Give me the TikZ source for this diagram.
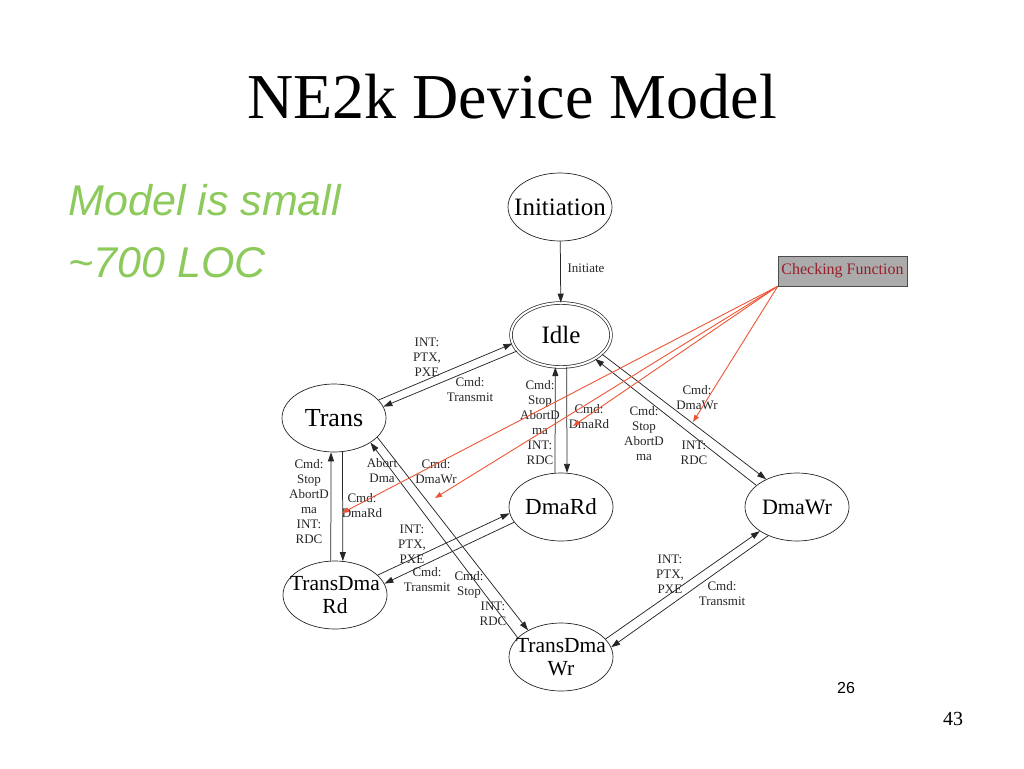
\documentclass[tikz,border=0pt]{standalone}
\usepackage{fontspec}
\setmainfont{Liberation Serif}
\newfontfamily\arialfont{Liberation Sans}
\usepackage{tikz}
\usetikzlibrary{shapes.geometric,arrows.meta}
\definecolor{chkred}{RGB}{238,84,52}
\definecolor{chktext}{RGB}{150,32,42}
\definecolor{locgreen}{RGB}{140,202,92}

\begin{document}
\begin{tikzpicture}[x=1pt,y=1pt,yscale=-1,xscale=1,
	state/.style={draw=black!85,ellipse,line width=0.7pt,minimum width=104pt,minimum height=68pt,inner sep=-12pt,align=center,font=\fontsize{23}{23}\selectfont},
	lbl/.style={inner sep=0pt,align=center,text=black!85,font=\fontsize{13}{15}\selectfont},
	tr/.style={draw=black!85,line width=0.75pt,-{Triangle[length=9pt,width=6pt]}},
	chk/.style={draw=chkred,line width=0.9pt,-{Triangle[length=7pt,width=5pt]}}]
	\useasboundingbox (0,0) rectangle (1024,768);
	
	%Text: title and notes
	\node[anchor=base,font=\fontsize{64}{64}\selectfont] (title) at (512,118) {NE2k Device Model};
	\node[anchor=base west,text=locgreen,font=\arialfont\itshape\fontsize{43}{43}\selectfont] (small) at (65,215) {Model is small};
	\node[anchor=base west,text=locgreen,font=\arialfont\itshape\fontsize{43}{43}\selectfont] (loc) at (65,277) {\textasciitilde 700 LOC};
	\node[anchor=base,font=\arialfont\fontsize{16}{16}\selectfont] (fig) at (846,693) {26};
	\node[anchor=base,font=\fontsize{20}{20}\selectfont] (page) at (953,725) {43};
	
	%States
	\node[state,font=\fontsize{25}{25}\selectfont] (init) at (560,207) {Initiation};
	\node[state,double,double distance=2pt,minimum width=100pt,minimum height=64pt,font=\fontsize{25}{25}\selectfont] (idle) at (561,335) {Idle};
	\node[state,font=\fontsize{26}{26}\selectfont] (trans) at (334,418) {Trans};
	\node[state] (dmard) at (561,507) {DmaRd};
	\node[state,font=\fontsize{22}{22}\selectfont] (dmawr) at (797,507) {DmaWr};
	\node[state,font=\fontsize{21.5}{22.5}\selectfont] (tdrd) at (335,595) {TransDma\\Rd};
	\node[state,font=\fontsize{21.5}{22.5}\selectfont] (tdwr) at (561,657) {TransDma\\Wr};
	
	%Checking function box
	\node[draw=black!70,fill=black!33,text=chktext,minimum width=129pt,minimum height=30pt,inner sep=0pt,font=\fontsize{16}{16}\selectfont] (chk) at (842.5,271) {Checking Function};
	
	%Transitions
	\draw[tr] (init) -- (idle);
	\draw[tr] (trans.22) -- (idle.190);
	\draw[tr] (idle.200) -- (trans.13);
	\draw[tr] (idle.280) -- (dmard.80);
	\draw[tr] (dmard.100) -- (idle.260);
	\draw[tr] (idle.335) -- (dmawr.138);
	\draw[tr] (dmawr.152) -- (idle.325);
	\draw[tr] (trans.284) -- (tdrd.77);
	\draw[tr] (tdrd.97) -- (trans.265);
	\draw[tr] (trans.336) -- (tdwr.141);
	\draw[tr] (tdwr.156) -- (trans.326);
	\draw[tr] (tdrd.25) -- (dmard.187);
	\draw[tr] (dmard.198) -- (tdrd.13);
	\draw[tr] (tdwr.22) -- (dmawr.213);
	\draw[tr] (dmawr.225) -- (tdwr.11);
	
	%Transition labels
	\node[lbl] (lInit) at (586,268) {Initiate};
	\node[lbl] (lTI) at (427,357) {INT:\\PTX,\\PXE};
	\node[lbl] (lIT) at (470,390) {Cmd:\\Transmit};
	\node[lbl] (lRI) at (540,423) {Cmd:\\Stop\\AbortD\\ma\\INT:\\RDC};
	\node[lbl] (lIR) at (589,417) {Cmd:\\DmaRd};
	\node[lbl] (lIW) at (697,398) {Cmd:\\DmaWr};
	\node[lbl] (lWIa) at (644,434) {Cmd:\\Stop\\AbortD\\ma};
	\node[lbl] (lWIb) at (694,453) {INT:\\RDC};
	\node[lbl] (lDT) at (309,502) {Cmd:\\Stop\\AbortD\\ma\\INT:\\RDC};
	\node[lbl] (lTD) at (362,506) {Cmd:\\DmaRd};
	\node[lbl] (lWT) at (382,471) {Abort\\Dma};
	\node[lbl] (lTW) at (436,472) {Cmd:\\DmaWr};
	\node[lbl] (lDRa) at (412,544) {INT:\\PTX,\\PXE};
	\node[lbl] (lRD) at (427,580) {Cmd:\\Transmit};
	\node[lbl] (lWTa) at (469,585) {Cmd:\\Stop};
	\node[lbl] (lWTb) at (493,614) {INT:\\RDC};
	\node[lbl] (lDW) at (670,574) {INT:\\PTX,\\PXE};
	\node[lbl] (lWD) at (722,594) {Cmd:\\Transmit};
	
	%Checking function links
	\coordinate (hitA) at (342,513);
	\coordinate (hitB) at (435,498);
	\coordinate (hitC) at (573,426);
	\coordinate (hitD) at (693,422);
	\draw[chk] (chk.south west) -- (hitA);
	\draw[chk] (chk.south west) -- (hitB);
	\draw[chk] (chk.south west) -- (hitC);
	\draw[chk] (chk.south west) -- (hitD);
	
\end{tikzpicture}
\end{document}
